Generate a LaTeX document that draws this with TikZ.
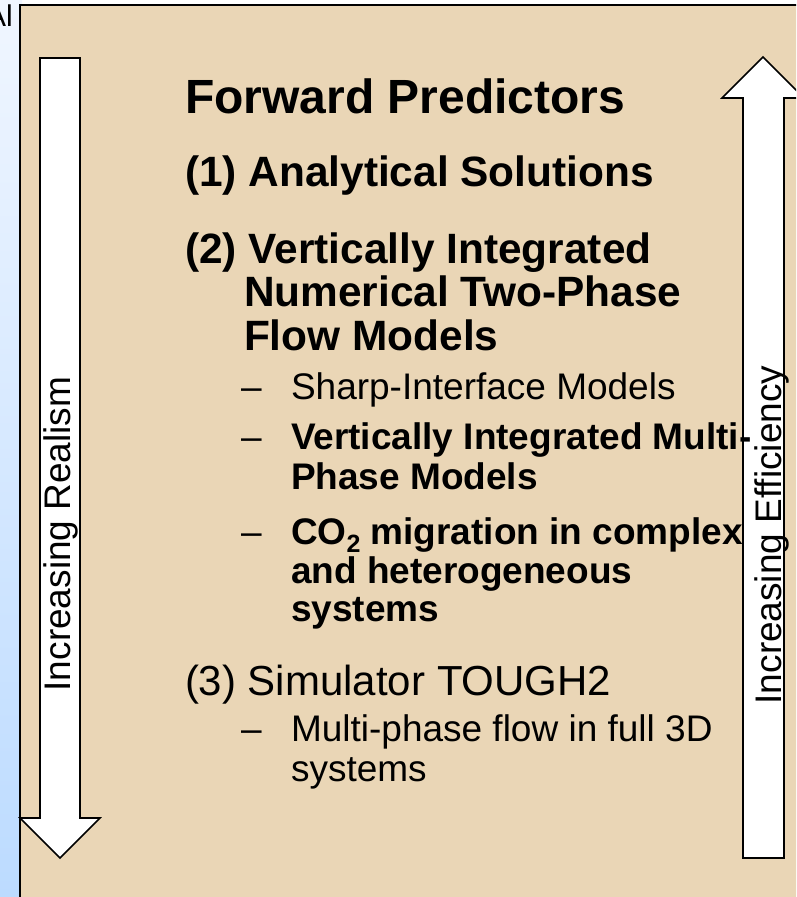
\documentclass[tikz,border=0pt]{standalone}
\usepackage{fontspec}
\setmainfont{Liberation Sans}
\definecolor{panel}{RGB}{234,214,182}
\definecolor{striptop}{RGB}{240,246,255}
\definecolor{stripbot}{RGB}{188,219,255}
\begin{document}
\begin{tikzpicture}[x=1pt,y=-1pt,
  txt/.style={anchor=base west,inner sep=0pt,outer sep=0pt},
  title/.style={txt,font=\fontsize{48}{52}\selectfont\bfseries},
  itemb/.style={txt,font=\fontsize{42.4}{46}\selectfont\bfseries},
  itemr/.style={txt,font=\fontsize{42}{46}\selectfont},
  subr/.style={txt,font=\fontsize{37}{41}\selectfont},
  subb/.style={txt,font=\fontsize{37}{41}\selectfont\bfseries},
  dashmark/.style={txt,font=\fontsize{37}{41}\selectfont},
  sidelbl/.style={anchor=base,inner sep=0pt,rotate=90,font=\fontsize{37}{41}\selectfont},
  arrowbox/.style={draw=black,fill=white,line width=1.6pt,line join=miter}]
\useasboundingbox (0,0) rectangle (796,897);
\begin{scope}
\clip (0,0) rectangle (796,897);
% left strip
\shade[top color=striptop,bottom color=stripbot] (0,0) rectangle (22,897);
\node[anchor=base east,inner sep=0pt,font=\fontsize{30}{32}\selectfont] (al) at (13,26) {Al};
% panel
\fill[panel] (20,5) rectangle (830,930);
\draw[line width=1.6pt] (20,930) -- (20,5) -- (830,5);
% arrows
\draw[arrowbox] (40,58) -- (80,58) -- (80,818) -- (100,818) -- (60,858) -- (20,818) -- (40,818) -- cycle;
\draw[arrowbox] (743,858) -- (784,858) -- (784,98) -- (804,98) -- (763,57) -- (722,98) -- (743,98) -- cycle;
\end{scope}
\node[sidelbl] (realism) at (70,534) {Increasing Realism};
\node[sidelbl] (efficiency) at (781,535) {Increasing Efficiency};
% text
\node[title] (ttl) at (185,113) {Forward Predictors};
\node[itemb] (i1) at (185,186) {(1) Analytical Solutions};
\node[itemb] (i2a) at (185,263) {(2) Vertically Integrated};
\node[itemb] (i2b) at (244,306) {Numerical Two-Phase};
\node[itemb] (i2c) at (244,350) {Flow Models};
\node[dashmark] (d1) at (241,399) {–};
\node[subr] (s1) at (291,399) {Sharp-Interface Models};
\node[dashmark] (d2) at (241,449) {–};
\node[subb] (s2a) at (291,449) {Vertically Integrated Multi-};
\node[subb] (s2b) at (291,489) {Phase Models};
\node[dashmark] (d3) at (241,544) {–};
\node[subb] (s3a) at (291,544) {CO\raisebox{-0.22em}{\fontsize{25}{25}\selectfont 2} migration in complex};
\node[subb] (s3b) at (291,583) {and heterogeneous};
\node[subb] (s3c) at (291,621) {systems};
\node[itemr] (i3) at (185,695) {(3) Simulator TOUGH2};
\node[dashmark] (d4) at (241,741) {–};
\node[subr] (s4a) at (291,741) {Multi-phase flow in full 3D};
\node[subr] (s4b) at (291,781) {systems};
\end{tikzpicture}
\end{document}
